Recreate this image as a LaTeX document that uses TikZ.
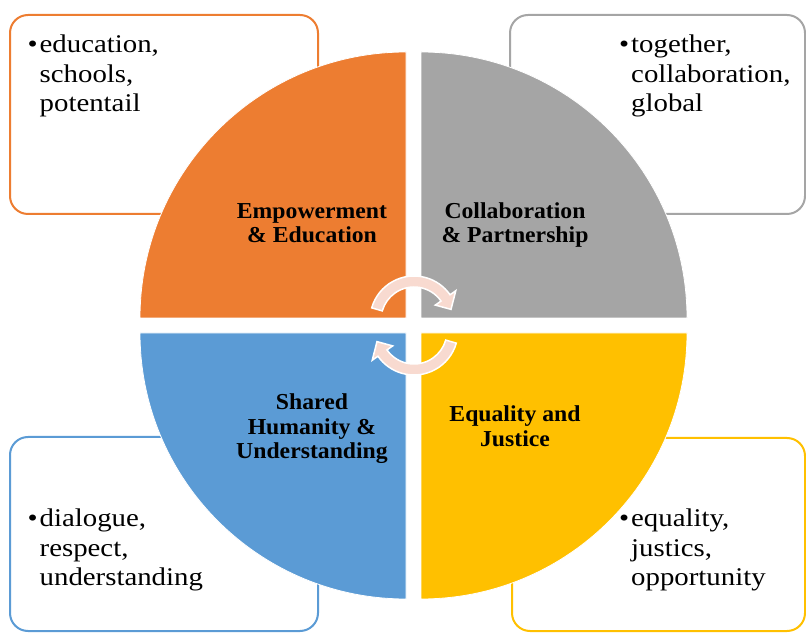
\documentclass[tikz,border=0pt]{standalone}
\usepackage{fontspec}
\setmainfont{Liberation Serif}
\newfontfamily\bulfont[FakeStretch=1.13]{Liberation Serif}
\newfontfamily\hdfont[FakeStretch=1.04]{Liberation Serif Bold}
\definecolor{cOrange}{HTML}{ED7D31}
\definecolor{cGrey}{HTML}{A5A5A5}
\definecolor{cBlue}{HTML}{5B9BD5}
\definecolor{cYellow}{HTML}{FFC000}
\definecolor{cPink}{HTML}{F8DAD0}
\begin{document}
\begin{tikzpicture}[x=1pt,y=1pt,
  sidebox/.style={draw=#1,line width=2pt,fill=white,rounded corners=18pt},
  quad/.style={fill=#1,draw=white,line width=0.8pt},
  bultext/.style={anchor=base west,inner sep=0pt,font=\bulfont\fontsize{25.5}{29.5}\selectfont},
  hdtext/.style={anchor=base,inner sep=0pt,font=\hdfont\fontsize{22.8}{24.5}\selectfont},
  cycarrow/.style={fill=cPink,draw=white,line width=1.5pt,line join=miter}]
\useasboundingbox (0,0) rectangle (806,632);
% side boxes
\draw[sidebox=cOrange] (10,418) rectangle (318,617);
\draw[sidebox=cGrey] (510,418) rectangle (805,617);
\draw[sidebox=cBlue] (10,1) rectangle (318,195);
\draw[sidebox=cYellow] (512,1) rectangle (805,194);
% quadrants
\draw[quad=cOrange] (406,314) -- ++(-266,0) arc[start angle=180,end angle=90,radius=266] -- cycle;
\draw[quad=cGrey] (421,314) -- ++(0,266) arc[start angle=90,end angle=0,radius=266] -- cycle;
\draw[quad=cBlue] (406,299) -- ++(0,-266) arc[start angle=270,end angle=180,radius=266] -- cycle;
\draw[quad=cYellow] (421,299) -- ++(266,0) arc[start angle=0,end angle=-90,radius=266] -- cycle;
% circular arrows
\begin{scope}[shift={(414,312)}]
\draw[cycarrow] (164:44) arc[start angle=164,end angle=35,radius=44] -- (35:51) -- (16:38.5) -- (35:26) -- (35:33) arc[start angle=35,end angle=164,radius=33] -- cycle;
\end{scope}
\begin{scope}[shift={(414,301)},rotate=180]
\draw[cycarrow] (164:44) arc[start angle=164,end angle=35,radius=44] -- (35:51) -- (16:38.5) -- (35:26) -- (35:33) arc[start angle=35,end angle=164,radius=33] -- cycle;
\end{scope}
% headings
\node[hdtext] (h1) at (312,413.5) {\begin{tabular}[t]{@{}c@{}}Empowerment\\ \& Education\end{tabular}};
\node[hdtext] (h2) at (515,413.5) {\begin{tabular}[t]{@{}c@{}}Collaboration\\ \& Partnership\end{tabular}};
\node[hdtext] (h3) at (312,222) {\begin{tabular}[t]{@{}c@{}}Shared\\ Humanity \&\\ Understanding\end{tabular}};
\node[hdtext] (h4) at (515,210) {\begin{tabular}[t]{@{}c@{}}Equality and\\ Justice\end{tabular}};
% bullet texts
\node[bultext] (t1) at (39.5,579) {\begin{tabular}[t]{@{}l@{}}\llap{•\hspace{2pt}}education,\\ schools,\\ potentail\end{tabular}};
\node[bultext] (t2) at (631,579) {\begin{tabular}[t]{@{}l@{}}\llap{•\hspace{2pt}}together,\\ collaboration,\\ global\end{tabular}};
\node[bultext] (t3) at (39.5,105) {\begin{tabular}[t]{@{}l@{}}\llap{•\hspace{2pt}}dialogue,\\ respect,\\ understanding\end{tabular}};
\node[bultext] (t4) at (631,105) {\begin{tabular}[t]{@{}l@{}}\llap{•\hspace{2pt}}equality,\\ justics,\\ opportunity\end{tabular}};
\end{tikzpicture}
\end{document}
